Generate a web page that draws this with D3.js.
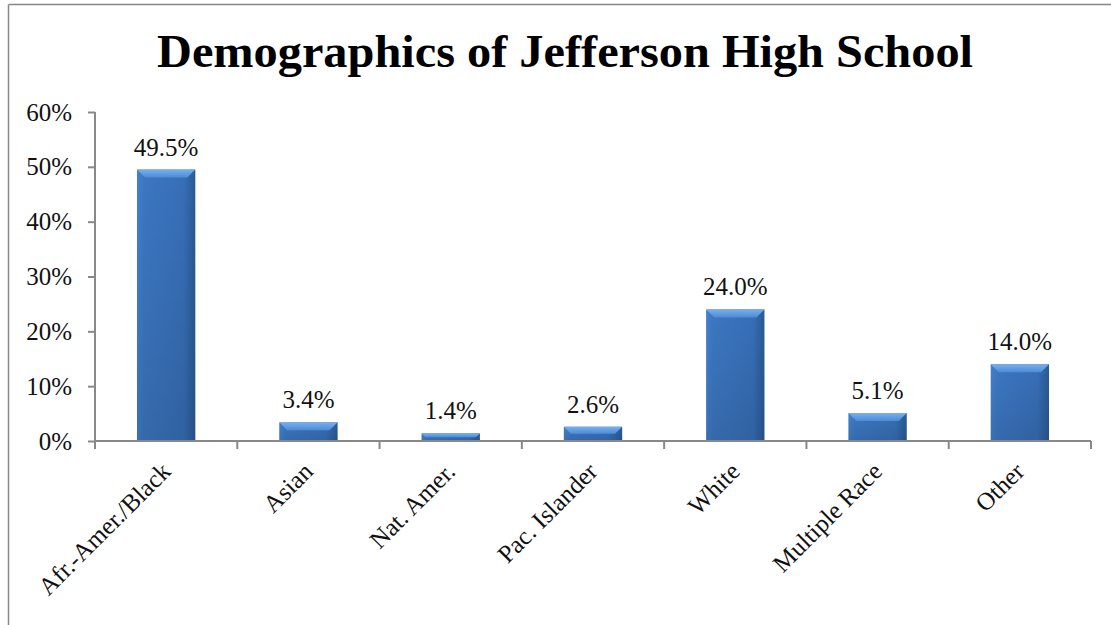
<!DOCTYPE html>
<html>
<head>
<meta charset="utf-8">
<script src="https://cdn.jsdelivr.net/npm/d3@7"></script>
<style>
  body { margin: 0; background: #fff; }
  svg { display: block; font-family: "Liberation Serif", "DejaVu Serif", serif; }
</style>
</head>
<body>
<script>
// chart data
const categories = ["Afr.-Amer./Black", "Asian", "Nat. Amer.", "Pac. Islander", "White", "Multiple Race", "Other"];
const values = [49.5, 3.4, 1.4, 2.6, 24.0, 5.1, 14.0];
const yTicks = [0, 10, 20, 30, 40, 50, 60];

const width = 1111, height = 625;
const svg = d3.select("body").append("svg")
    .attr("width", width)
    .attr("height", height);

// outer frame (top + left edge only visible)
svg.append("line").attr("x1", 8.5).attr("x2", width).attr("y1", 4.5).attr("y2", 4.5)
    .attr("stroke", "#888").attr("stroke-width", 1.5);
svg.append("line").attr("x1", 8.5).attr("x2", 8.5).attr("y1", 4.5).attr("y2", height)
    .attr("stroke", "#888").attr("stroke-width", 1.5);

svg.append("text")
    .attr("x", 565).attr("y", 67)
    .attr("text-anchor", "middle")
    .attr("textLength", 816).attr("lengthAdjust", "spacingAndGlyphs")
    .style("font-size", "46px").style("font-weight", "bold")
    .text("Demographics of Jefferson High School");

const x0 = 95, x1 = 1091, yTop = 112, yBase = 441;
const x = d3.scaleBand().domain(categories).range([x0, x1]).paddingInner(0.59).paddingOuter(0.295);
const y = d3.scaleLinear().domain([0, 60]).range([yBase, yTop]);

const defs = svg.append("defs");
const grad = defs.append("linearGradient").attr("id", "barGrad")
    .attr("x1", "0%").attr("x2", "100%").attr("y1", "0%").attr("y2", "0%");
grad.append("stop").attr("offset", "0%").attr("stop-color", "#4380cb");
grad.append("stop").attr("offset", "12%").attr("stop-color", "#3c77c2");
grad.append("stop").attr("offset", "80%").attr("stop-color", "#376fb8");
grad.append("stop").attr("offset", "100%").attr("stop-color", "#2a5a94");
const bev = defs.append("linearGradient").attr("id", "bevGrad")
    .attr("x1", "0%").attr("x2", "0%").attr("y1", "0%").attr("y2", "100%");
bev.append("stop").attr("offset", "0%").attr("stop-color", "#78b0ee");
bev.append("stop").attr("offset", "100%").attr("stop-color", "#4d8bd4");
const vshade = defs.append("linearGradient").attr("id", "vGrad")
    .attr("x1", "0%").attr("x2", "0%").attr("y1", "0%").attr("y2", "100%");
vshade.append("stop").attr("offset", "0%").attr("stop-color", "#000").attr("stop-opacity", 0);
vshade.append("stop").attr("offset", "100%").attr("stop-color", "#000").attr("stop-opacity", 0.12);

// y axis
const yAxis = svg.append("g")
    .attr("transform", `translate(${x0},0)`)
    .call(d3.axisLeft(y).tickValues(yTicks).tickSize(7).tickPadding(16).tickFormat(d => d + "%"));
yAxis.select(".domain").attr("stroke", "#888").attr("stroke-width", 2).attr("d", `M0,${yTop}V${yBase}`);
yAxis.selectAll(".tick line").attr("stroke", "#888").attr("stroke-width", 2);
yAxis.selectAll(".tick text").style("font-size", "25px").style("font-family", "Liberation Serif").attr("fill", "#111");

// bars
const bars = svg.append("g").selectAll("g").data(values).enter().append("g");
bars.append("rect")
    .attr("x", (d, i) => x(categories[i]))
    .attr("y", d => y(d))
    .attr("width", x.bandwidth())
    .attr("height", d => yBase - y(d))
    .attr("fill", "url(#barGrad)");
bars.append("rect")
    .attr("x", (d, i) => x(categories[i]))
    .attr("y", d => y(d))
    .attr("width", x.bandwidth())
    .attr("height", d => yBase - y(d))
    .attr("fill", "url(#vGrad)");
bars.append("path")
    .attr("d", (d, i) => {
        const bx = x(categories[i]), bw = x.bandwidth(), by = y(d);
        const b = Math.min(8, (yBase - by) / 2);
        return `M${bx},${by}H${bx + bw}L${bx + bw - b},${by + b}H${bx + b}Z`;
    })
    .attr("fill", "url(#bevGrad)");
bars.append("text")
    .attr("x", (d, i) => x(categories[i]) + x.bandwidth() / 2)
    .attr("y", d => y(d) - 14)
    .attr("text-anchor", "middle")
    .style("font-size", "25px")
    .attr("fill", "#111")
    .text(d => d.toFixed(1) + "%");

// x axis
const xAxis = svg.append("g")
    .attr("transform", `translate(0,${yBase})`);
xAxis.append("line").attr("x1", x0).attr("x2", x1).attr("stroke", "#888").attr("stroke-width", 2);
const step = (x1 - x0) / categories.length;
xAxis.selectAll(".xt").data(d3.range(categories.length + 1)).enter().append("line")
    .attr("x1", i => x0 + i * step).attr("x2", i => x0 + i * step)
    .attr("y1", 0).attr("y2", 8)
    .attr("stroke", "#888").attr("stroke-width", 2);
xAxis.selectAll(".xl").data(categories).enter().append("text")
    .attr("transform", d => `translate(${x(d) + x.bandwidth() / 2 + 6},${32}) rotate(-45)`)
    .attr("text-anchor", "end")
    .style("font-size", "25px")
    .attr("fill", "#111")
    .text(d => d);
</script>
</body>
</html>
